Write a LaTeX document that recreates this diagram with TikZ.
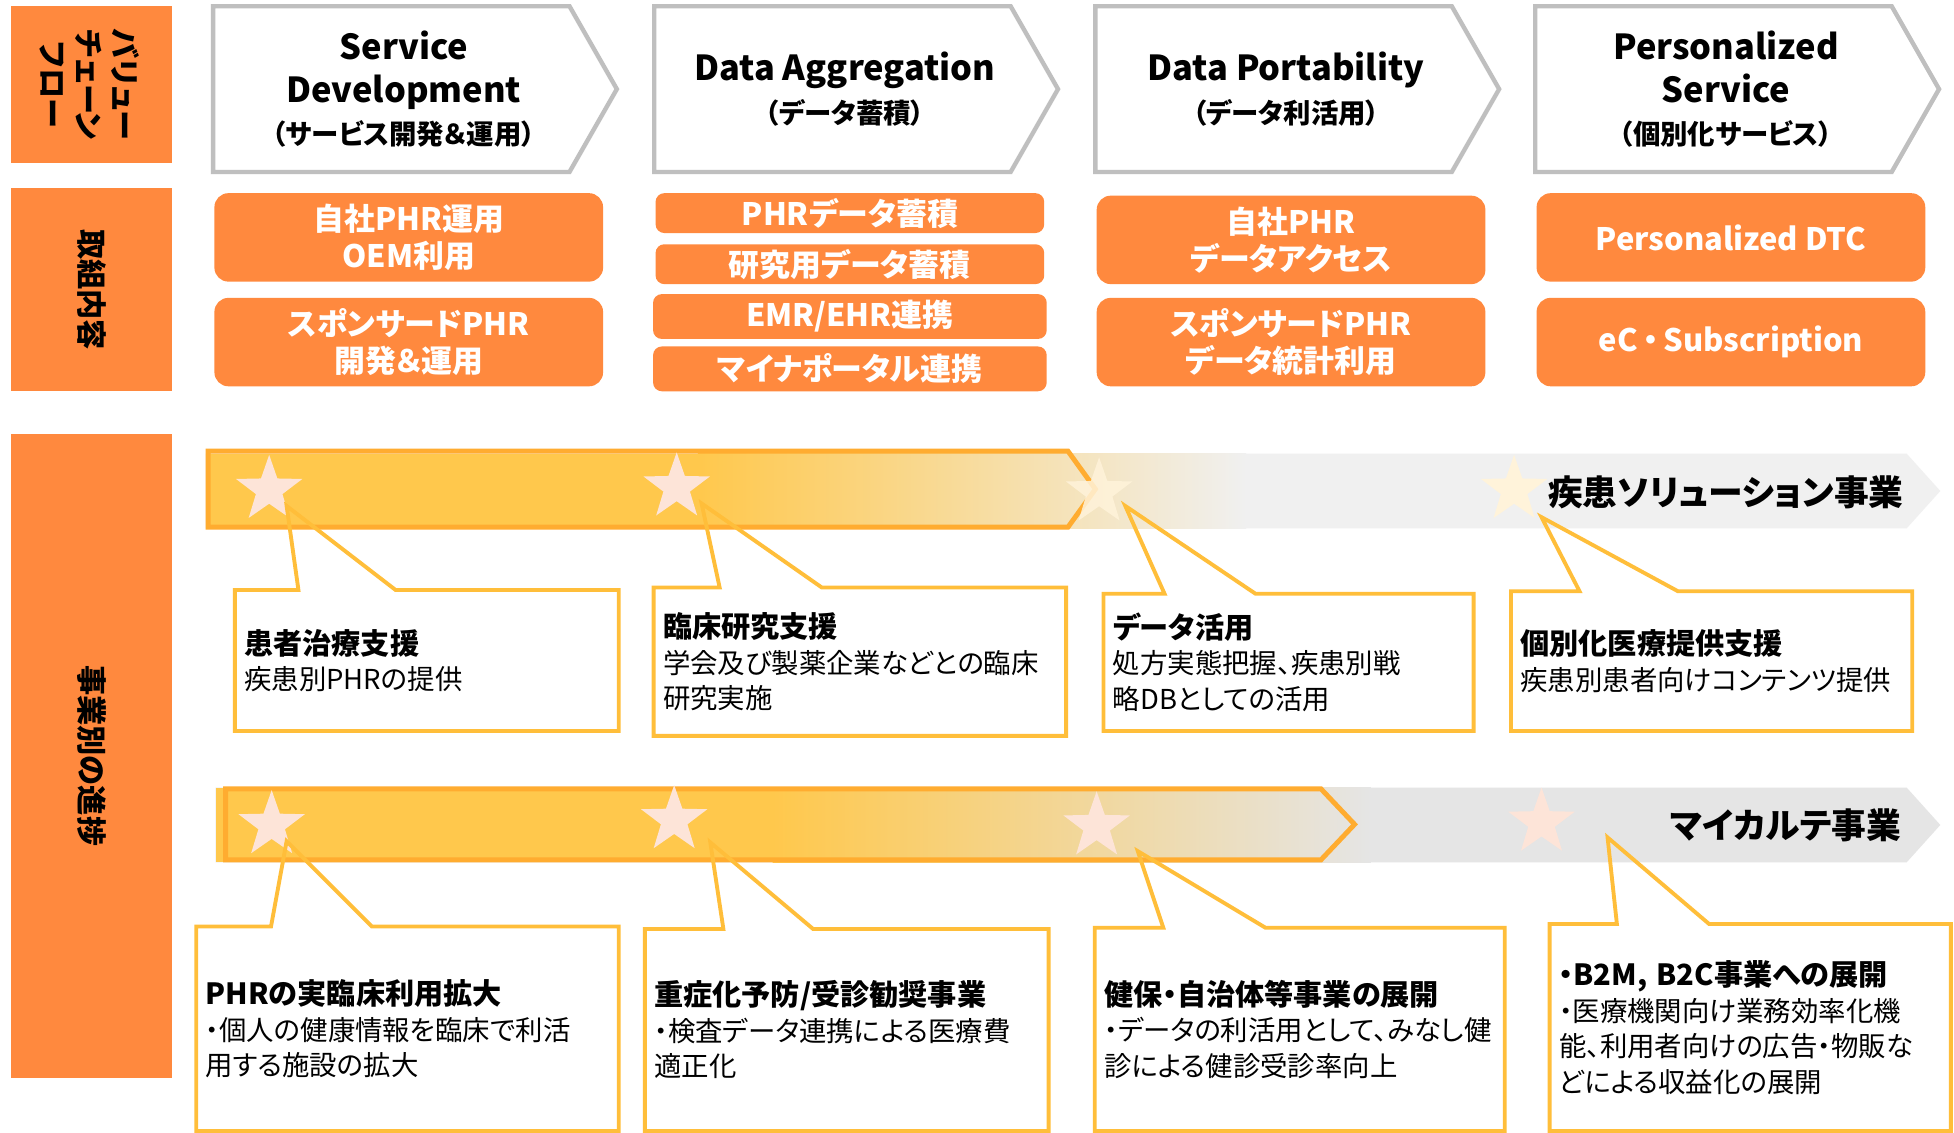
\documentclass[tikz,border=0pt]{standalone}
\usepackage{fontspec}
\setmainfont{Noto Sans CJK JP}[RawFeature={+palt}]
\usetikzlibrary{shapes.geometric}

\definecolor{vcOrange}{RGB}{255,137,62}
\definecolor{vcGray}{RGB}{191,191,191}
\definecolor{barYellow}{RGB}{255,200,76}
\definecolor{barEdge}{RGB}{255,172,48}
\definecolor{barGrayA}{RGB}{240,240,240}
\definecolor{barGrayB}{RGB}{229,229,229}
\definecolor{starPink}{RGB}{253,228,216}
\definecolor{starCream}{RGB}{255,243,218}
\definecolor{calloutEdge}{RGB}{255,190,58}

\newcommand{\px}{0.35458pt}
\newcommand{\ctitlefont}{\bfseries\fontsize{8.3}{10.1}\selectfont}

\begin{document}
\begin{tikzpicture}[x=0.012462cm, y=-0.012462cm, line join=miter,
		sidelabel/.style={rotate=-90, align=center, font=\bfseries\fontsize{8.6}{10.3}\selectfont},
		chevron/.style={draw=vcGray, line width=1.25pt, fill=white},
		chevtitle/.style={align=center, font=\bfseries\fontsize{9.8}{12}\selectfont},
		taskbox/.style={fill=vcOrange, rounded corners=4pt, text=white, align=center, inner sep=0pt,
			minimum width=312*\px, font=\bfseries\fontsize{8.8}{10.6}\selectfont},
		barlabel/.style={font=\bfseries\fontsize{9.9}{12}\selectfont},
		baredge/.style={draw=barEdge, line width=1.4pt},
		star5/.style={star, star points=5, star point ratio=2.5, minimum size=56*\px, inner sep=0pt},
		callout/.style={draw=calloutEdge, line width=1.1pt},
		cbox/.style={align=left, inner xsep=7*\px, inner ysep=0pt, font=\fontsize{7.8}{10.1}\selectfont}]
		\path[use as bounding box, fill=white] (0,0) rectangle (1568,909);
		\begin{scope}
			\fill[vcOrange] (9,5) rectangle (138,131);
			\fill[vcOrange] (9,151) rectangle (138,314);
			\fill[vcOrange] (9,348) rectangle (138,865);
			\node[sidelabel] (vc) at (72,68) {バリュー\\チェーン\\フロー};
			\node[sidelabel] (task) at (73.5,232.5) {取組内容};
			\node[sidelabel] (prog) at (73.5,606.5) {事業別の進捗};
		\end{scope}
		\begin{scope}
			\foreach \x in {171,525,879,1232}
			{\draw[chevron] (\x,5)--(\x+286,5)--(\x+324,71.5)--(\x+286,138)--(\x,138)--cycle;}
			\node[chevtitle] (hd1) at (324,71.5) {Service\\Development\\{\fontsize{7.8}{11}\selectfont （サービス開発＆運用）}};
			\node[chevtitle] (hd2) at (678,71.5) {Data Aggregation\\{\fontsize{7.8}{11}\selectfont （データ蓄積）}};
			\node[chevtitle] (hd3) at (1032,71.5) {Data Portability\\{\fontsize{7.8}{11}\selectfont （データ利活用）}};
			\node[chevtitle] (hd4) at (1385,71.5) {Personalized\\Service\\{\fontsize{7.8}{11}\selectfont （個別化サービス）}};
		\end{scope}
		\begin{scope}
			\node[taskbox, minimum height=71*\px] (t11) at (328,190.5) {自社PHR運用\\OEM利用};
			\node[taskbox, minimum height=71*\px] (t12) at (328,274.5) {スポンサードPHR\\開発＆運用};
			\node[taskbox, rounded corners=2.5pt, minimum height=32*\px] (t21) at (682,171) {PHRデータ蓄積};
			\node[taskbox, rounded corners=2.5pt, minimum height=32*\px] (t22) at (682,212) {研究用データ蓄積};
			\node[taskbox, rounded corners=2.5pt, minimum height=36*\px, minimum width=316*\px] (t23) at (682,254) {EMR/EHR連携};
			\node[taskbox, rounded corners=2.5pt, minimum height=36*\px, minimum width=316*\px] (t24) at (682,296) {マイナポータル連携};
			\node[taskbox, minimum height=71*\px] (t31) at (1036,192.5) {自社PHR\\データアクセス};
			\node[taskbox, minimum height=71*\px] (t32) at (1036,274.5) {スポンサードPHR\\データ統計利用};
			\node[taskbox, minimum height=71*\px] (t41) at (1389,190.5) {Personalized DTC};
			\node[taskbox, minimum height=71*\px] (t42) at (1389,274.5) {eC\,・\,Subscription};
		\end{scope}
		\begin{scope}
			\fill[barGrayA] (165,364)--(1530,364)--(1557,394)--(1530,424)--(165,424)--cycle;
			\fill[barYellow] (165,364) rectangle (562,424);
			\shade[left color=barYellow, right color=barGrayA] (560,364) rectangle (1000,424);
			\draw[baredge] (167,362)--(857,362)--(879,392.5)--(857,423)--(167,423)--cycle;
			\node[star5, fill=starPink] (s11) at (216,393) {};
			\node[star5, fill=starPink] (s12) at (543,391) {};
			\node[star5, fill=starCream, opacity=.85] (s13) at (882,395) {};
			\node[star5, fill=starCream] (s14) at (1215,393) {};
			\node[barlabel] (lbl1) at (1385,395) {疾患ソリューション事業};
		\end{scope}
		\begin{scope}
			\fill[barGrayB] (173,632)--(1530,632)--(1557,662)--(1530,692)--(173,692)--cycle;
			\fill[barYellow] (173,632) rectangle (622,692);
			\shade[left color=barYellow, right color=barGrayB] (620,632) rectangle (1100,692);
			\draw[baredge] (181,633)--(1060,633)--(1087,661.5)--(1060,690)--(181,690)--cycle;
			\node[star5, fill=starPink] (s21) at (218,662) {};
			\node[star5, fill=starPink] (s22) at (541,658) {};
			\node[star5, fill=starPink] (s23) at (880,663) {};
			\node[star5, fill=starPink] (s24) at (1237,660) {};
			\node[barlabel] (lbl2) at (1433,662) {マイカルテ事業};
		\end{scope}
		\node[cbox, minimum width=307*\px, minimum height=112*\px, text width=293*\px] (c11) at (342.5,530)
			{{\ctitlefont 患者治療支援}\\疾患別PHRの提供};
		\node[cbox, minimum width=330*\px, minimum height=118*\px, text width=316*\px] (c12) at (690,531)
			{{\ctitlefont 臨床研究支援}\\学会及び製薬企業などとの臨床\\研究実施};
		\node[cbox, minimum width=296*\px, minimum height=109*\px, text width=282*\px] (c13) at (1034,531.5)
			{{\ctitlefont データ活用}\\処方実態把握、疾患別戦\\略DBとしての活用};
		\node[cbox, minimum width=321*\px, minimum height=111*\px, text width=307*\px] (c14) at (1373.5,530.5)
			{{\ctitlefont 個別化医療提供支援}\\疾患別患者向けコンテンツ提供};
		\node[cbox, minimum width=338*\px, minimum height=163*\px, text width=324*\px] (c21) at (327,825.5)
			{{\ctitlefont PHRの実臨床利用拡大}\\・個人の健康情報を臨床で利活\\用する施設の拡大};
		\node[cbox, minimum width=323*\px, minimum height=161*\px, text width=309*\px] (c22) at (679.5,826.5)
			{{\ctitlefont 重症化予防/受診勧奨事業}\\・検査データ連携による医療費\\適正化};
		\node[cbox, minimum width=328*\px, minimum height=162*\px, text width=314*\px] (c23) at (1043,826)
			{{\ctitlefont 健保・自治体等事業の展開}\\・データの利活用として、みなし健\\診による健診受診率向上};
		\node[cbox, minimum width=321*\px, minimum height=165*\px, text width=307*\px] (c24) at (1404.5,824.5)
			{{\ctitlefont ・B2M, B2C事業への展開}\\・医療機関向け業務効率化機\\能、利用者向けの広告・物販な\\どによる収益化の展開};
		\foreach \c/\a/\b/\s/\dx/\dy in {c11/51/129/s11/14/13, c12/53/135/s12/20/13, c13/49/122/s13/21/11,
			c14/55/134/s14/22/22, c21/60/141/s21/12/13, c22/63/135/s22/29/18, c23/55/137/s23/33/20, c24/54/128/s24/53/12}
		{\draw[callout] (\c.north west)--([shift={(\a,0)}]\c.north west)--([shift={(\dx,\dy)}]\s.center)
			--([shift={(\b,0)}]\c.north west)--(\c.north east)--(\c.south east)--(\c.south west)--cycle;}
\end{tikzpicture}
\end{document}
